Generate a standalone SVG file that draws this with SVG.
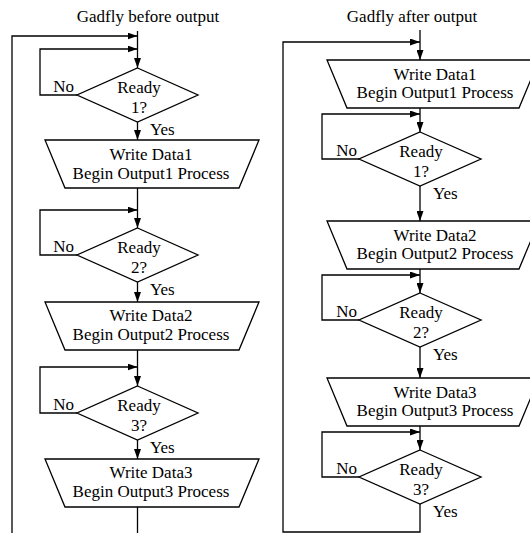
<svg xmlns="http://www.w3.org/2000/svg" width="530" height="533" viewBox="0 0 530 533">
<style>
text{font-family:"Liberation Serif","DejaVu Serif","Times New Roman",Times,serif;font-size:17px;fill:#000}
.c{text-anchor:middle}
.e{text-anchor:end}
.ln{fill:none;stroke:#000;stroke-width:1.3}
.ar{marker-end:url(#ah)}
.shape{fill:#fff;stroke:#000;stroke-width:1.3}
</style>
<defs>
<marker id="ah" markerUnits="userSpaceOnUse" markerWidth="10" markerHeight="7" refX="10" refY="3.5" orient="auto">
<path d="M0,0 L10,3.5 L0,7 z" fill="#000"/>
</marker>
</defs>
<rect width="530" height="533" fill="#fff"/>
<text class="c" x="148" y="22">Gadfly before output</text>
<text class="c" x="412" y="22">Gadfly after output</text>
<g id="connectors">
<path class="ln ar" d="M137.5,31 V68"/>
<path class="ln ar" d="M12,533 V36 H137.5"/>
<path class="ln ar" d="M77,95 H40 V49 H137.5"/>
<path class="ln ar" d="M137.5,122 V140"/>
<path class="ln ar" d="M137.5,188 V228"/>
<path class="ln ar" d="M77,255 H40 V210 H137.5"/>
<path class="ln ar" d="M137.5,282 V302"/>
<path class="ln ar" d="M137.5,350 V386"/>
<path class="ln ar" d="M77,413 H40 V367 H137.5"/>
<path class="ln ar" d="M137.5,440 V459"/>
<path class="ln" d="M137.5,507 V533"/>
<path class="ln ar" d="M420,30 V60"/>
<path class="ln ar" d="M420,504 V532 H283 V42 H420"/>
<path class="ln ar" d="M420,108 V132"/>
<path class="ln ar" d="M359,159 H322 V114 H420"/>
<path class="ln ar" d="M420,186 V221"/>
<path class="ln ar" d="M420,269 V293"/>
<path class="ln ar" d="M359,320 H322 V275 H420"/>
<path class="ln ar" d="M420,347 V378"/>
<path class="ln ar" d="M420,426 V450"/>
<path class="ln ar" d="M359,477 H322 V432 H420"/>
<text class="e" x="74" y="92">No</text>
<text x="150" y="135">Yes</text>
<text class="e" x="74" y="252">No</text>
<text x="150" y="295">Yes</text>
<text class="e" x="74" y="410">No</text>
<text x="150" y="453">Yes</text>
<text class="e" x="357" y="156">No</text>
<text x="433" y="199">Yes</text>
<text class="e" x="357" y="317">No</text>
<text x="433" y="360">Yes</text>
<text class="e" x="357" y="474">No</text>
<text x="433" y="517">Yes</text>
</g>
<g id="L_ready1">
<polygon class="shape" points="137.5,68 198,95 137.5,122 77,95"/>
<text class="c" x="139" y="93">Ready</text>
<text class="c" x="139" y="113">1?</text>
</g>
<g id="L_write1">
<polygon class="shape" points="45,140 259,140 239,188 65,188"/>
<text class="c" x="151" y="160">Write Data1</text>
<text class="c" x="151" y="179">Begin Output1 Process</text>
</g>
<g id="L_ready2">
<polygon class="shape" points="137.5,228 198,255 137.5,282 77,255"/>
<text class="c" x="139" y="253">Ready</text>
<text class="c" x="139" y="273">2?</text>
</g>
<g id="L_write2">
<polygon class="shape" points="45,302 259,302 239,350 65,350"/>
<text class="c" x="151" y="321">Write Data2</text>
<text class="c" x="151" y="340">Begin Output2 Process</text>
</g>
<g id="L_ready3">
<polygon class="shape" points="137.5,386 198,413 137.5,440 77,413"/>
<text class="c" x="139" y="411">Ready</text>
<text class="c" x="139" y="431">3?</text>
</g>
<g id="L_write3">
<polygon class="shape" points="45,459 259,459 239,507 65,507"/>
<text class="c" x="151" y="478">Write Data3</text>
<text class="c" x="151" y="497">Begin Output3 Process</text>
</g>
<g id="R_write1">
<polygon class="shape" points="327,60 539,60 519,108 347,108"/>
<text class="c" x="435" y="80">Write Data1</text>
<text class="c" x="435" y="98">Begin Output1 Process</text>
</g>
<g id="R_ready1">
<polygon class="shape" points="420,132 481,159 420,186 359,159"/>
<text class="c" x="421" y="157">Ready</text>
<text class="c" x="421" y="177">1?</text>
</g>
<g id="R_write2">
<polygon class="shape" points="327,221 539,221 519,269 347,269"/>
<text class="c" x="435" y="241">Write Data2</text>
<text class="c" x="435" y="259">Begin Output2 Process</text>
</g>
<g id="R_ready2">
<polygon class="shape" points="420,293 481,320 420,347 359,320"/>
<text class="c" x="421" y="318">Ready</text>
<text class="c" x="421" y="338">2?</text>
</g>
<g id="R_write3">
<polygon class="shape" points="327,378 539,378 519,426 347,426"/>
<text class="c" x="435" y="398">Write Data3</text>
<text class="c" x="435" y="416">Begin Output3 Process</text>
</g>
<g id="R_ready3">
<polygon class="shape" points="420,450 481,477 420,504 359,477"/>
<text class="c" x="421" y="475">Ready</text>
<text class="c" x="421" y="495">3?</text>
</g>
</svg>
